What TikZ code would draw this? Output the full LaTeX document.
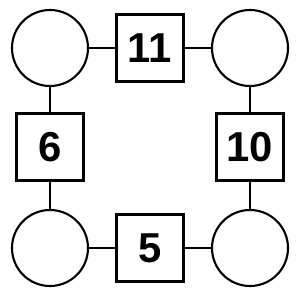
\documentclass[tikz,border=0pt]{standalone}
\usepackage{fontspec}
\setmainfont{Liberation Sans}
\begin{document}
\begin{tikzpicture}[
        ring/.style={
            draw,
            circle,
            line width=1.2pt,
            minimum size=1.52cm,
            inner sep=0pt
        },
        numbox/.style={
            draw,
            line width=1.2pt,
            minimum width=1.34cm,
            minimum height=1.34cm,
            inner sep=0pt,
            font=\fontsize{23.8}{28}\selectfont\bfseries
        },
        link/.style={line width=1.2pt}
    ]
    \useasboundingbox (0,0) rectangle (6,6);

    % =========================
    % Corners
    % =========================
    \node[ring] (tl) at (1.0,5.04) {};
    \node[ring] (tr) at (5.0,5.04) {};
    \node[ring] (bl) at (1.0,1.04) {};
    \node[ring] (br) at (5.0,1.04) {};

    % =========================
    % Sides
    % =========================
    \node[numbox] (top)    at (3.0,5.04) {11};
    \node[numbox] (left)   at (1.0,3.06) {6};
    \node[numbox] (right)  at (5.0,3.06) {10};
    \node[numbox] (bottom) at (3.0,1.04) {5};

    \draw[link] (tl) -- (top);
    \draw[link] (top) -- (tr);
    \draw[link] (tr) -- (right);
    \draw[link] (right) -- (br);
    \draw[link] (br) -- (bottom);
    \draw[link] (bottom) -- (bl);
    \draw[link] (bl) -- (left);
    \draw[link] (left) -- (tl);

    \end{tikzpicture}
\end{document}
